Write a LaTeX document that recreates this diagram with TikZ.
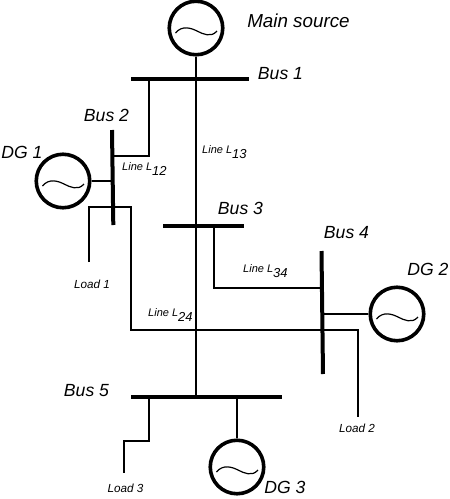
\documentclass[tikz,border=0pt]{standalone}
\usepackage{fontspec}
\setmainfont{Liberation Sans}
\newcommand{\lsub}[1]{\raisebox{-5pt}{\fontsize{13}{13}\selectfont #1}}
\begin{document}
\begin{tikzpicture}[x=1pt,y=-1pt,
  bus/.style={line width=4pt},
  wire/.style={line width=1.5pt},
  gen/.style={draw,circle,line width=3.6pt,minimum size=53.5pt,inner sep=0pt,
    path picture={\draw[line width=1.2pt,shift={(path picture bounding box.center)}] (-20.5,5) .. controls (-14,-3) and (-5,0) .. (1,3) .. controls (7,6) and (15,10) .. (21,3);}},
  buslab/.style={font=\fontsize{17.6}{18}\selectfont\itshape,inner sep=0pt},
  mainlab/.style={font=\fontsize{18.8}{20}\selectfont\itshape,inner sep=0pt},
  linelab/.style={font=\fontsize{11}{13}\selectfont\itshape,inner sep=0pt,anchor=base west},
  loadlab/.style={font=\fontsize{11.7}{13}\selectfont\itshape,inner sep=0pt}]
\useasboundingbox (0,0) rectangle (450,499);
\node[gen] (main) at (196,28) {};
\node[gen] (dg1) at (63,181) {};
\node[gen] (dg2) at (397,314) {};
\node[gen] (dg3) at (237,467) {};
\coordinate (bus1w) at (131,78.5);
\coordinate (bus1e) at (249,78.5);
\coordinate (bus2n) at (112,130);
\coordinate (bus2s) at (113.3,225);
\coordinate (bus3w) at (163,225.5);
\coordinate (bus3e) at (244,225.5);
\coordinate (bus4n) at (321.5,251);
\coordinate (bus4s) at (323,374);
\coordinate (bus5w) at (131,397);
\coordinate (bus5e) at (282,397);
\coordinate (bus1a) at (149,78.5);
\coordinate (l12a) at (149,156);
\coordinate (l12b) at (113,156);
\coordinate (bus1m) at (196,397);
\coordinate (dg1b) at (112.6,181);
\coordinate (l1a) at (89,207);
\coordinate (l1b) at (131,207);
\coordinate (load1) at (89,262);
\coordinate (l24) at (131,330);
\coordinate (l2a) at (358,330);
\coordinate (load2) at (358,417);
\coordinate (bus3a) at (214,225.5);
\coordinate (l34) at (214,288);
\coordinate (bus4a) at (321.8,288);
\coordinate (dg2b) at (322.5,314);
\coordinate (bus5a) at (149,397);
\coordinate (l3a) at (149,441);
\coordinate (l3b) at (124,441);
\coordinate (load3) at (124,473);
\coordinate (bus5b) at (237,397);
\draw[wire] (main)--(bus1m);
\draw[wire] (bus1a)--(l12a)--(l12b);
\draw[wire] (dg1)--(dg1b);
\draw[wire] (load1)--(l1a)--(l1b)--(l24)--(l2a)--(load2);
\draw[wire] (bus3a)--(l34)--(bus4a);
\draw[wire] (dg2)--(dg2b);
\draw[wire] (bus5a)--(l3a)--(l3b)--(load3);
\draw[wire] (bus5b)--(dg3);
\draw[bus] (bus1w)--(bus1e);
\draw[bus] (bus2n)--(bus2s);
\draw[bus] (bus3w)--(bus3e);
\draw[bus] (bus4n)--(bus4s);
\draw[bus] (bus5w)--(bus5e);
\node[mainlab] (mainl) at (298.5,21) {Main source};
\node[buslab] (bus1lab) at (280.5,73.5) {Bus 1};
\node[buslab] (bus2lab) at (106.5,115.5) {Bus 2};
\node[buslab] (bus3lab) at (240.5,208.5) {Bus 3};
\node[buslab] (bus4lab) at (346.5,233) {Bus 4};
\node[buslab] (bus5lab) at (86.5,390.5) {Bus 5};
\node[buslab] (dg1lab) at (22,152) {DG 1};
\node[buslab] (dg2lab) at (428,269.5) {DG 2};
\node[buslab] (dg3lab) at (285,487) {DG 3};
\node[linelab] (l12lab) at (122,170) {Line L\lsub{12}};
\node[linelab] (l13lab) at (202,153) {Line L\lsub{13}};
\node[linelab] (l34lab) at (243,272.7) {Line L\lsub{34}};
\node[linelab] (l24lab) at (148,316) {Line L\lsub{24}};
\node[loadlab] (load1lab) at (92,284) {Load 1};
\node[loadlab] (load2lab) at (357,428.5) {Load 2};
\node[loadlab] (load3lab) at (125.5,488.5) {Load 3};
\end{tikzpicture}
\end{document}
